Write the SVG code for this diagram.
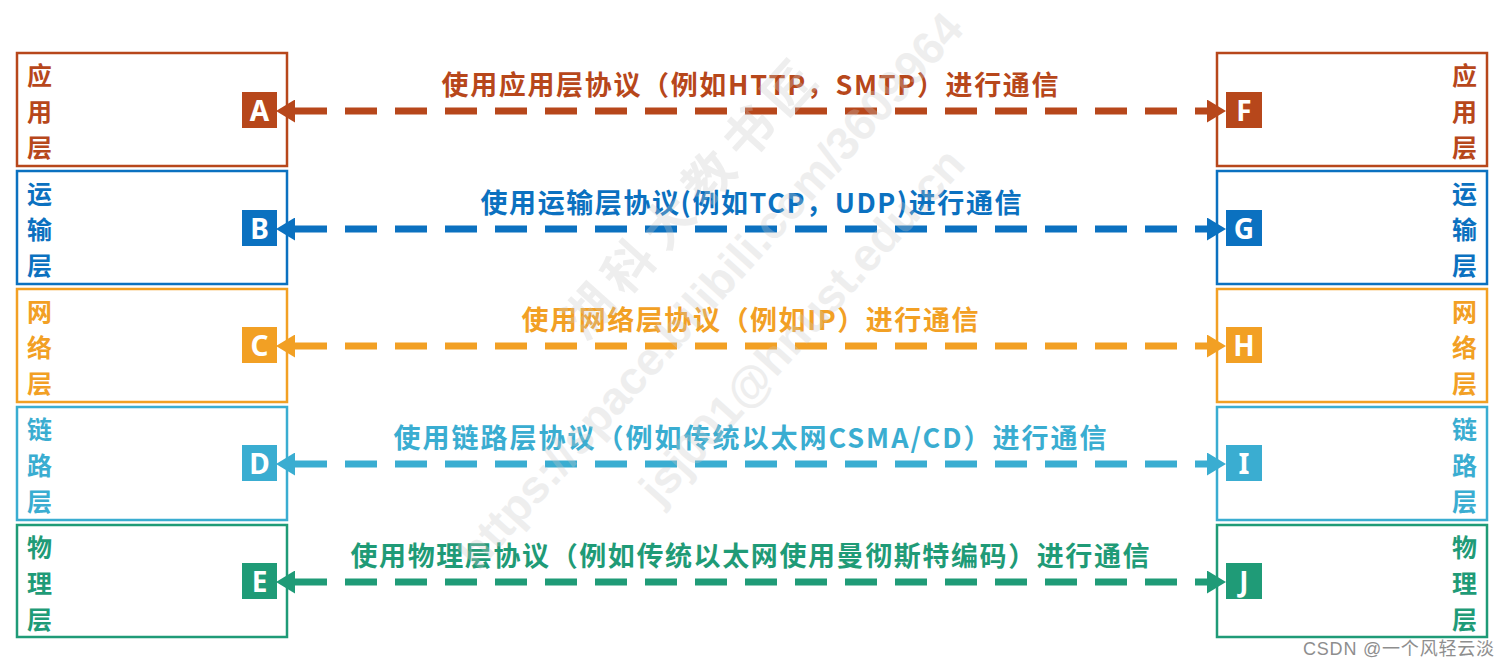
<svg xmlns="http://www.w3.org/2000/svg" width="1511" height="666" viewBox="0 0 1511 666">
<style>
.box{fill:#fff;stroke-width:2.5}
.vt{font-family:"Noto Sans CJK SC","Noto Sans CJK JP",sans-serif;font-weight:700;font-size:25px}
.vr{text-anchor:end}
.lab{font-family:"Noto Sans CJK SC","Noto Sans CJK JP",sans-serif;font-weight:700;font-size:27px;text-anchor:middle}
.sqt{font-family:"Noto Sans","Open Sans","Liberation Sans",sans-serif;font-weight:700;font-size:28px;fill:#fff;text-anchor:middle}
.conn{fill:none;stroke-width:7;stroke-dasharray:32 18}
.a{stroke:#B7471B}.af{fill:#B7471B}
.b{stroke:#0B71C0}.bf{fill:#0B71C0}
.c{stroke:#F2A024}.cf{fill:#F2A024}
.d{stroke:#3AADD1}.df{fill:#3AADD1}
.e{stroke:#1F9B77}.ef{fill:#1F9B77}
.wm{font-family:"Liberation Sans",sans-serif;font-weight:700;font-size:46px;fill:#c8c8c8;opacity:0.3}
.wmc{font-family:"Noto Sans CJK SC",sans-serif;font-weight:700;font-size:50px;fill:#c8c8c8;opacity:0.3;letter-spacing:10px}
.csdn{font-family:"Liberation Sans","Noto Sans CJK SC",sans-serif;font-size:18px;fill:#8e8e8e}
</style>
<defs>
<marker id="ma" markerUnits="userSpaceOnUse" viewBox="0 0 19 23" markerWidth="19" markerHeight="23" refX="0" refY="11.5" orient="auto-start-reverse"><path d="M0,0 L19,11.5 L0,23 Z" fill="#B7471B"/></marker>
<marker id="mb" markerUnits="userSpaceOnUse" viewBox="0 0 19 23" markerWidth="19" markerHeight="23" refX="0" refY="11.5" orient="auto-start-reverse"><path d="M0,0 L19,11.5 L0,23 Z" fill="#0B71C0"/></marker>
<marker id="mc" markerUnits="userSpaceOnUse" viewBox="0 0 19 23" markerWidth="19" markerHeight="23" refX="0" refY="11.5" orient="auto-start-reverse"><path d="M0,0 L19,11.5 L0,23 Z" fill="#F2A024"/></marker>
<marker id="md" markerUnits="userSpaceOnUse" viewBox="0 0 19 23" markerWidth="19" markerHeight="23" refX="0" refY="11.5" orient="auto-start-reverse"><path d="M0,0 L19,11.5 L0,23 Z" fill="#3AADD1"/></marker>
<marker id="me" markerUnits="userSpaceOnUse" viewBox="0 0 19 23" markerWidth="19" markerHeight="23" refX="0" refY="11.5" orient="auto-start-reverse"><path d="M0,0 L19,11.5 L0,23 Z" fill="#1F9B77"/></marker>
</defs>
<rect width="1511" height="666" fill="#fff"/>

<!-- left stack -->
<g id="node-A">
<rect class="box a" x="17" y="53" width="270" height="113"/>
<text class="vt af" x="27" y="85">应</text><text class="vt af" x="27" y="121">用</text><text class="vt af" x="27" y="157">层</text>
<rect class="af" x="242" y="92" width="35" height="36"/><text class="sqt" x="259.5" y="121">A</text>
</g>
<g id="node-B">
<rect class="box b" x="17" y="171" width="270" height="113"/>
<text class="vt bf" x="27" y="203">运</text><text class="vt bf" x="27" y="239">输</text><text class="vt bf" x="27" y="275">层</text>
<rect class="bf" x="242" y="210" width="35" height="36"/><text class="sqt" x="259.5" y="239">B</text>
</g>
<g id="node-C">
<rect class="box c" x="17" y="289" width="270" height="113"/>
<text class="vt cf" x="27" y="321">网</text><text class="vt cf" x="27" y="357">络</text><text class="vt cf" x="27" y="393">层</text>
<rect class="cf" x="242" y="327" width="35" height="36"/><text class="sqt" x="259.5" y="356">C</text>
</g>
<g id="node-D">
<rect class="box d" x="17" y="407" width="270" height="113"/>
<text class="vt df" x="27" y="439">链</text><text class="vt df" x="27" y="475">路</text><text class="vt df" x="27" y="511">层</text>
<rect class="df" x="242" y="445" width="35" height="36"/><text class="sqt" x="259.5" y="474">D</text>
</g>
<g id="node-E">
<rect class="box e" x="17" y="525" width="270" height="112"/>
<text class="vt ef" x="27" y="557">物</text><text class="vt ef" x="27" y="593">理</text><text class="vt ef" x="27" y="629">层</text>
<rect class="ef" x="242" y="563" width="35" height="36"/><text class="sqt" x="259.5" y="592">E</text>
</g>

<!-- right stack -->
<g id="node-F">
<rect class="box a" x="1217" y="53" width="270" height="113"/>
<text class="vt vr af" x="1477" y="85">应</text><text class="vt vr af" x="1477" y="121">用</text><text class="vt vr af" x="1477" y="157">层</text>
<rect class="af" x="1226" y="92" width="36" height="36"/><text class="sqt" x="1244" y="121">F</text>
</g>
<g id="node-G">
<rect class="box b" x="1217" y="171" width="270" height="113"/>
<text class="vt vr bf" x="1477" y="203">运</text><text class="vt vr bf" x="1477" y="239">输</text><text class="vt vr bf" x="1477" y="275">层</text>
<rect class="bf" x="1226" y="210" width="36" height="36"/><text class="sqt" x="1244" y="239">G</text>
</g>
<g id="node-H">
<rect class="box c" x="1217" y="289" width="270" height="113"/>
<text class="vt vr cf" x="1477" y="321">网</text><text class="vt vr cf" x="1477" y="357">络</text><text class="vt vr cf" x="1477" y="393">层</text>
<rect class="cf" x="1226" y="327" width="36" height="36"/><text class="sqt" x="1244" y="356">H</text>
</g>
<g id="node-I">
<rect class="box d" x="1217" y="407" width="270" height="113"/>
<text class="vt vr df" x="1477" y="439">链</text><text class="vt vr df" x="1477" y="475">路</text><text class="vt vr df" x="1477" y="511">层</text>
<rect class="df" x="1226" y="445" width="36" height="36"/><text class="sqt" x="1244" y="474">I</text>
</g>
<g id="node-J">
<rect class="box e" x="1217" y="525" width="270" height="112"/>
<text class="vt vr ef" x="1477" y="557">物</text><text class="vt vr ef" x="1477" y="593">理</text><text class="vt vr ef" x="1477" y="629">层</text>
<rect class="ef" x="1226" y="563" width="36" height="36"/><text class="sqt" x="1244" y="592">J</text>
</g>

<!-- connectors -->
<g id="connectors">
<path class="conn a" d="M295,111 H1207" marker-start="url(#ma)" marker-end="url(#ma)"/>
<path class="conn b" d="M295,229 H1207" marker-start="url(#mb)" marker-end="url(#mb)"/>
<path class="conn c" d="M295,346 H1207" marker-start="url(#mc)" marker-end="url(#mc)"/>
<path class="conn d" d="M295,464 H1207" marker-start="url(#md)" marker-end="url(#md)"/>
<path class="conn e" d="M295,582 H1207" marker-start="url(#me)" marker-end="url(#me)"/>
<text class="lab af" x="750" y="95" textLength="617">使用应用层协议（例如HTTP，SMTP）进行通信</text>
<text class="lab bf" x="751" y="213" textLength="541">使用运输层协议(例如TCP，UDP)进行通信</text>
<text class="lab cf" x="750" y="330" textLength="457">使用网络层协议（例如IP）进行通信</text>
<text class="lab df" x="750" y="448" textLength="713">使用链路层协议（例如传统以太网CSMA/CD）进行通信</text>
<text class="lab ef" x="750" y="566" textLength="799">使用物理层协议（例如传统以太网使用曼彻斯特编码）进行通信</text>
</g>

<!-- watermark -->
<g id="watermark">
<text class="wmc" transform="translate(585,342) rotate(-48)">湖科大教书匠</text>
<text class="wm" transform="translate(478,572) rotate(-48)">https://space.bilibili.com/3609964</text>
<text class="wm" transform="translate(660,507) rotate(-48)">jsj001@hnust.edu.cn</text>
</g>
<text class="csdn" x="1303" y="655" textLength="191">CSDN @一个风轻云淡</text>
</svg>
